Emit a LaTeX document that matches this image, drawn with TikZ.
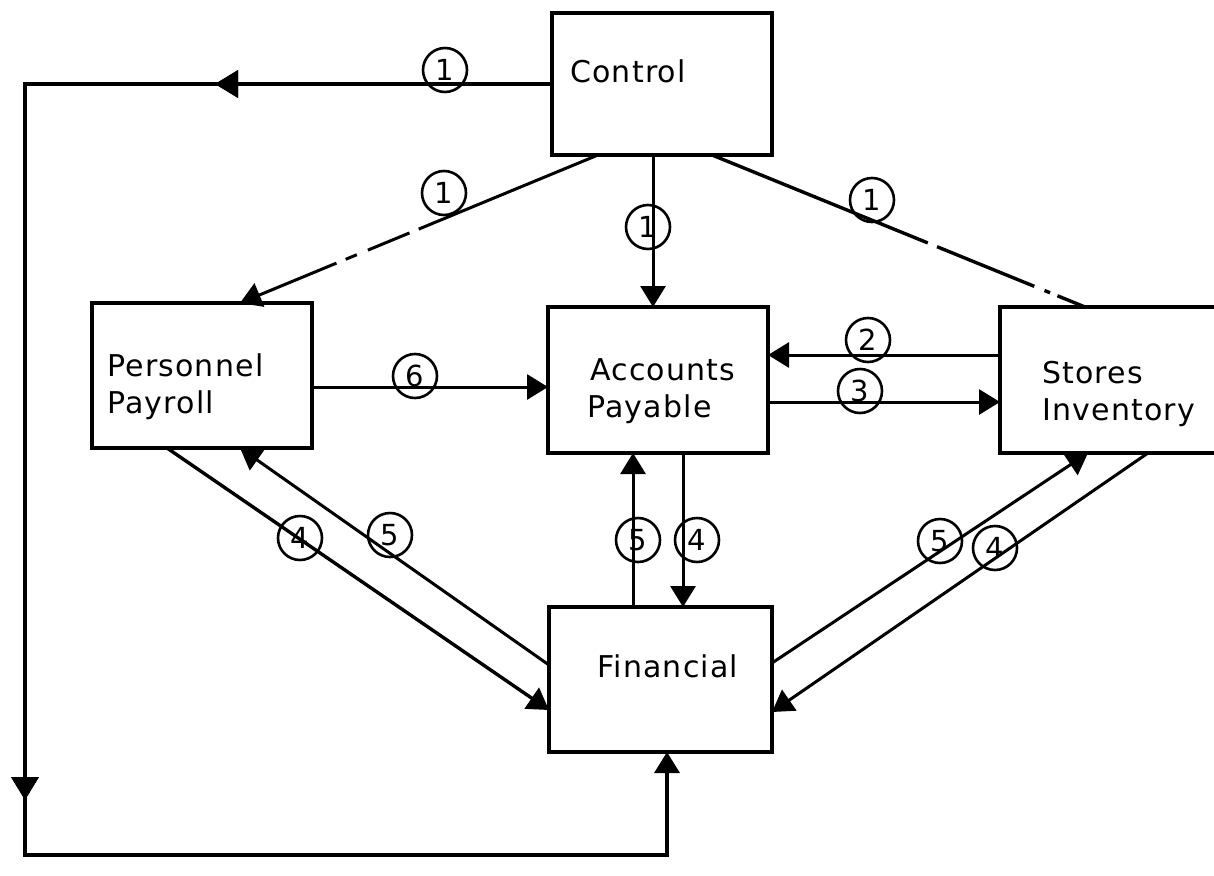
\documentclass[tikz,border=0pt]{standalone}
\usepackage{fontspec}
\newfontfamily\lblfont{DejaVu Sans}[LetterSpace=4]
\newfontfamily\numfont{DejaVu Sans}
\usetikzlibrary{arrows.meta,decorations.markings}
\begin{document}
\begin{tikzpicture}[x=1pt,y=-1pt,
  box/.style={draw, line width=3.6pt, anchor=north west, inner sep=0pt, outer sep=0pt},
  lbl/.style={font=\lblfont\fontsize{30}{30}\selectfont, anchor=base west, inner sep=0pt},
  num/.style={draw, circle, line width=2.6pt, minimum size=44pt, inner sep=0pt,
              font=\numfont\fontsize{29}{29}\selectfont},
  tip/.style={-{Triangle[length=21pt,width=25pt]}},
  conn/.style={line width=3pt, tip},
  plain/.style={line width=3pt},
  midarrow/.style={postaction={decorate}, decoration={markings,
      mark=at position #1 with {\arrow{Triangle[length=23pt,width=27pt]}}}}
]
\useasboundingbox (0,0) rectangle (1214,875);
\clip (0,0) rectangle (1214,875);

% boxes
\node[box, minimum width=220pt, minimum height=142pt] (ctrl) at (552,13) {};
\node[box, minimum width=220pt, minimum height=145pt] (pp) at (92,303) {};
\node[box, minimum width=220pt, minimum height=146pt] (ap) at (548,307) {};
\node[box, minimum width=240pt, minimum height=146pt] (si) at (1000,307) {};
\node[box, minimum width=223pt, minimum height=145pt] (fin) at (549,607) {};

% texts
\node[lbl] (tctrl) at (570,82) {Control};
\node[lbl] (tpp1) at (107,376) {Personnel};
\node[lbl] (tpp2) at (107,413) {Payroll};
\node[lbl] (tap1) at (590,380) {Accounts};
\node[lbl] (tap2) at (587,417) {Payable};
\node[lbl] (tsi1) at (1042,383) {Stores};
\node[lbl] (tsi2) at (1042,420) {Inventory};
\node[lbl] (tfin) at (597,677) {Financial};

% helper coordinates
\coordinate (tl) at (25,84);
\coordinate (bl) at (25,855);
\coordinate (br) at (667,855);
\coordinate (xv1) at (653,0);
\coordinate (xdl) at (598,0);
\coordinate (xpl) at (240,0);
\coordinate (xdr) at (712,0);
\coordinate (xsr) at (1085,0);
\coordinate (y6) at (0,387);
\coordinate (y2) at (0,355);
\coordinate (y3) at (0,402);
\coordinate (xv5) at (633,0);
\coordinate (xv4) at (683,0);
\coordinate (xp4) at (167,0);
\coordinate (yf4l) at (0,710);
\coordinate (yf5l) at (0,665);
\coordinate (yf5r) at (0,663);
\coordinate (xs5) at (1088,0);
\coordinate (xs4) at (1148,0);
\coordinate (yf4r) at (0,712);

% outer loop from Control to Financial
\draw[conn, midarrow=337pt, midarrow=1243pt, line width=3.4pt]
  (ctrl.west) -- (tl) -- (bl) -- (br) -- (fin.south -| br);

% Control -> Accounts Payable
\draw[conn] (ctrl.south -| xv1) -- (ap.north -| xv1);
% Control -> Personnel (broken line)
\draw[conn, dash pattern=on 194pt off 10pt on 45pt off 12pt on 12pt off 10pt on 400pt]
  (ctrl.south -| xdl) -- (pp.north -| xpl);
% Control -> Stores (broken line)
\draw[plain, line width=3.4pt, dash pattern=on 233pt off 10pt on 105pt off 11pt on 6pt off 8pt on 400pt]
  (ctrl.south -| xdr) -- (si.north -| xsr);

% horizontal flows
\draw[conn] (pp.east |- y6) -- (ap.west |- y6);
\draw[conn] (si.west |- y2) -- (ap.east |- y2);
\draw[conn] (ap.east |- y3) -- (si.west |- y3);

% vertical flows AP <-> Financial
\draw[conn] (fin.north -| xv5) -- (ap.south -| xv5);
\draw[conn] (ap.south -| xv4) -- (fin.north -| xv4);

% diagonal flows
\draw[conn, line width=3.4pt] (pp.south -| xp4) -- (fin.west |- yf4l);
\draw[conn] (fin.west |- yf5l) -- (pp.south -| xpl);
\draw[conn] (fin.east |- yf5r) -- (si.south -| xs5);
\draw[conn] (si.south -| xs4) -- (fin.east |- yf4r);

% numbered circles
\node[num] (n1a) at (445,70) {1};
\node[num] (n1b) at (444,193) {1};
\node[num] (n1c) at (648,227) {1};
\node[num] (n1d) at (872,200) {1};
\node[num] (n6) at (415,376) {6};
\node[num] (n2) at (868,340) {2};
\node[num] (n3) at (860,391) {3};
\node[num] (n5v) at (638,540) {5};
\node[num] (n4v) at (697,540) {4};
\node[num] (n4l) at (300,538) {4};
\node[num] (n5l) at (390,535) {5};
\node[num] (n5r) at (940,541) {5};
\node[num] (n4r) at (995,548) {4};
\end{tikzpicture}
\end{document}
